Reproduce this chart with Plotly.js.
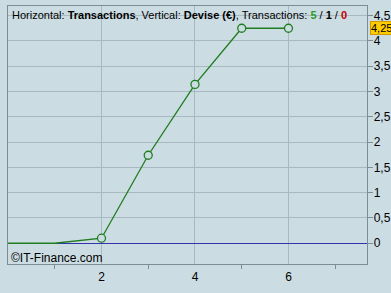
<!DOCTYPE html>
<html><head><meta charset="utf-8">
<script src="https://cdn.plot.ly/plotly-3.0.1.min.js"></script>
<style>html,body{margin:0;padding:0;background:#ccdce3;}#c{width:391px;height:293px;}</style>
</head><body><div id="c"></div>
<script>
// Data
const lineX = [0, 1, 2, 3, 4, 5, 6];
const lineY = [0, 0, 0.1, 1.74, 3.14, 4.25, 4.25];
const markerX = [2, 3, 4, 5, 6];
const markerY = [0.1, 1.74, 3.14, 4.25, 4.25];
const xTickVals = [2, 4, 6];
const xMinorVals = [1, 3, 5, 7];
const lastValueLabel = '4,25';
const lastValue = 4.25;

const bg = '#ccdce3';
const font = 'Liberation Sans, Arial, sans-serif';

const traces = [
  {x: lineX, y: lineY, type: 'scatter', mode: 'lines', line: {color: '#1e7d1e', width: 1.3}, hoverinfo: 'skip'},
  {x: markerX, y: markerY, type: 'scatter', mode: 'markers',
   marker: {symbol: 'circle', size: 8, color: bg, line: {color: '#1e7d1e', width: 1.3}}, hoverinfo: 'skip'},
  {x: [], y: [], xaxis: 'x2', type: 'scatter', showlegend: false}
];

const layout = {
  width: 391, height: 293,
  margin: {l: 8, r: 24, t: 6, b: 29},
  paper_bgcolor: bg, plot_bgcolor: bg,
  separators: ', ',
  showlegend: false,
  font: {family: font, size: 12, color: '#000'},
  xaxis: {
    range: [0, 7.68], tickvals: xTickVals, ticks: '', showgrid: true,
    gridcolor: '#a8b9c2', gridwidth: 1, zeroline: false,
    showline: true, linecolor: '#7d8d95', linewidth: 1.3, mirror: true,
    tickfont: {family: font, size: 12, color: '#000'}, ticklabelstandoff: 1
  },
  xaxis2: {
    overlaying: 'x', range: [0, 7.68], tickvals: xMinorVals, ticks: 'outside',
    ticklen: 4, tickcolor: '#7d8d95', showticklabels: false, showgrid: false,
    zeroline: false, side: 'bottom', anchor: 'y'
  },
  yaxis: {
    range: [-0.41, 4.69], dtick: 0.5, tick0: 0, side: 'right',
    ticks: 'outside', ticklen: 5, tickcolor: '#7d8d95',
    showgrid: true, gridcolor: '#a8b9c2', gridwidth: 1,
    zeroline: true, zerolinecolor: '#3333b0', zerolinewidth: 1.2,
    showline: true, linecolor: '#7d8d95', linewidth: 1.3, mirror: true,
    tickfont: {family: font, size: 12, color: '#000'}, ticklabelstandoff: -2
  },
  annotations: [
    {xref: 'paper', yref: 'paper', x: 0.005, y: 0.995, xanchor: 'left', yanchor: 'top', showarrow: false,
     font: {family: font, size: 11, color: '#000'},
     text: 'Horizontal: <b>Transactions</b>, Vertical: <b>Devise (€)</b>, Transactions: <b><span style="color:#2a9a2a">5</span></b> / <b>1</b> / <b><span style="color:#c00000">0</span></b>'},
    {xref: 'paper', yref: 'paper', x: 0.003, y: 0, xanchor: 'left', yanchor: 'bottom', yshift: -3, showarrow: false,
     font: {family: font, size: 12, color: '#000'}, text: '©IT-Finance.com'},
    {xref: 'paper', yref: 'y', x: 1, y: lastValue, xanchor: 'left', yanchor: 'middle', xshift: 3, showarrow: false,
     bgcolor: '#ffcc00', bordercolor: '#d09a00', borderwidth: 1, borderpad: 0,
     font: {family: font, size: 11, color: '#000'}, text: lastValueLabel}
  ]
};

Plotly.newPlot('c', traces, layout, {staticPlot: true, displayModeBar: false});
</script></body></html>
